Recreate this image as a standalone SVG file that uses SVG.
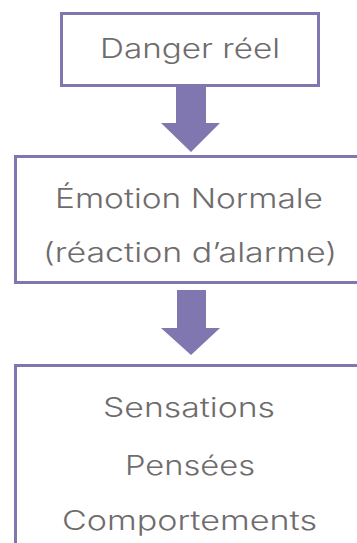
<svg xmlns="http://www.w3.org/2000/svg" width="357" height="543" viewBox="0 0 357 543">
  <style>
    .box { fill: #ffffff; stroke: #8077b1; stroke-width: 3; }
    .arrow { fill: #8077b1; }
    .label { font-family: "Inter", "Lato", "Liberation Sans", sans-serif; font-size: 27px; font-weight: 300; fill: #6f6c6d; text-anchor: middle; font-variant-ligatures: none; }
  </style>
  <rect width="357" height="543" fill="#ffffff"/>

  <g id="connectors">
    <polygon class="arrow" points="176,87 206,87 206,123 220,123 191,152 161,123 176,123"/>
    <polygon class="arrow" points="177,290 206,290 206,328 220,328 191,355 161,328 177,328"/>
  </g>

  <g id="danger">
    <rect class="box" x="61.5" y="13.5" width="257" height="72"/>
    <text class="label" x="190" y="58" textLength="180" lengthAdjust="spacingAndGlyphs">Danger réel</text>
  </g>

  <g id="emotion">
    <rect class="box" x="15.5" y="156.5" width="350" height="126"/>
    <text class="label" x="189" y="208" textLength="268" lengthAdjust="spacingAndGlyphs">Émotion Normale</text>
    <text class="label" x="190" y="262" textLength="294" lengthAdjust="spacingAndGlyphs">(réaction d’alarme)</text>
  </g>

  <g id="reponses">
    <rect class="box" x="15.5" y="365.5" width="350" height="190"/>
    <text class="label" x="189" y="417" textLength="172" lengthAdjust="spacingAndGlyphs">Sensations</text>
    <text class="label" x="190" y="475" textLength="130" lengthAdjust="spacingAndGlyphs">Pensées</text>
    <text class="label" x="189.5" y="530" textLength="255" lengthAdjust="spacingAndGlyphs">Comportements</text>
  </g>
</svg>
